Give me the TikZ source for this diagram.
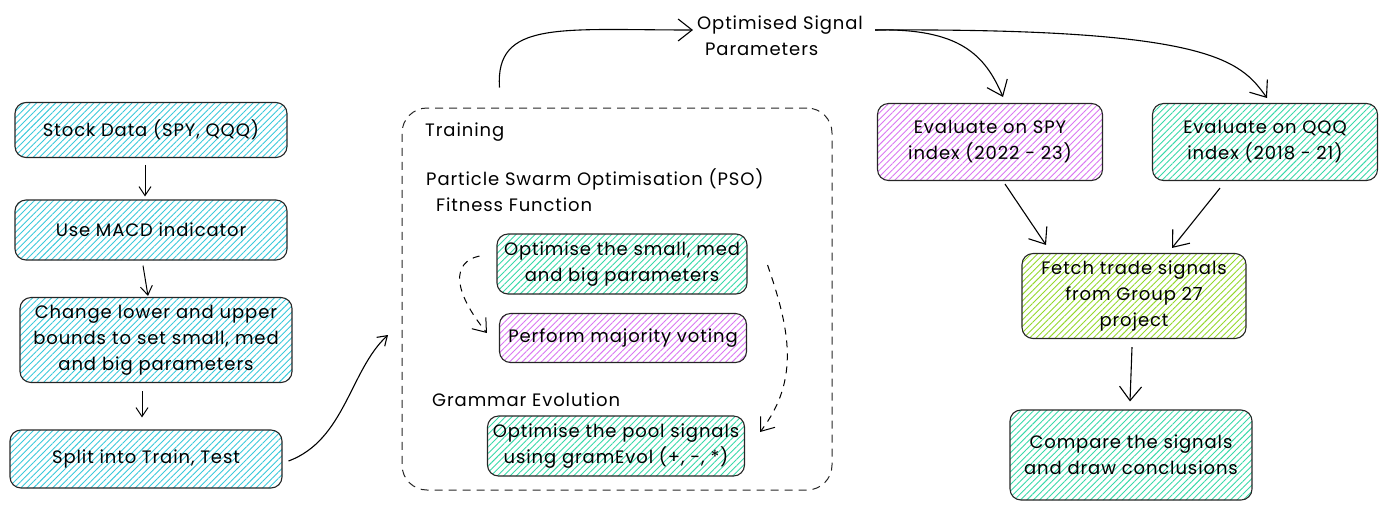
\documentclass[tikz,border=0pt]{standalone}
\usepackage{fontspec}
\setmainfont[LetterSpace=5]{Poppins}
\usetikzlibrary{arrows.meta,patterns.meta,calc}
\definecolor{cyanL}{HTML}{3BC9DB}
\definecolor{tealL}{HTML}{38D9A9}
\definecolor{purpL}{HTML}{DA77F2}
\definecolor{limeL}{HTML}{94D82D}
\tikzset{
  box/.style={draw=black!85, line width=1.1pt, rounded corners=11pt, align=center,
    font=\fontsize{18}{26}\selectfont, inner sep=1pt},
  hach/.style={pattern={Lines[angle=45,distance=4.5pt,line width=0.9pt]}, pattern color=#1},
  cyanbox/.style={box, hach=cyanL},
  tealbox/.style={box, hach=tealL},
  purpbox/.style={box, hach=purpL},
  limebox/.style={box, hach=limeL},
  lbl/.style={font=\fontsize{18}{26}\selectfont, align=left, inner sep=0pt},
  arr/.style={line width=1pt, -{Straight Barb[length=9pt,width=12pt]}},
  bigarr/.style={line width=1.1pt, -{Straight Barb[length=14pt,width=22pt]}},
  dasharr/.style={line width=1pt, dashed, dash pattern=on 7pt off 6pt, -{Straight Barb[length=12pt,width=18pt]}},
}
\begin{document}
\begin{tikzpicture}[x=1pt,y=-1pt]
\useasboundingbox (0,0) rectangle (1388,515);
% left column
\node[cyanbox, minimum width=272pt, minimum height=55pt] (stock) at (151,130) {Stock Data (SPY, QQQ)};
\node[cyanbox, minimum width=272pt, minimum height=60pt] (macd) at (151,230) {Use MACD indicator};
\node[cyanbox, minimum width=272pt, minimum height=85pt, text width=266pt] (bounds) at (156,340) {Change lower and upper\\bounds to set small, med\\and big parameters};
\node[cyanbox, minimum width=272pt, minimum height=58pt] (split) at (146,459) {Split into Train, Test};
\draw[arr] ($(stock.south)+(-6,7)$) -- ($(macd.north)+(-6,-3)$);
\draw[arr] ($(macd.south)+(-8,5)$) -- ($(bounds.north)+(-8,-1)$);
\draw[arr] ($(bounds.south)+(-14,8)$) -- ($(split.north)+(-4,-12)$);
% training group
\node[draw=black!85, line width=1pt, dashed, dash pattern=on 8pt off 6pt, rounded corners=25pt, minimum width=430pt, minimum height=382pt] (train) at (617,299) {};
\node[lbl, anchor=west] (tlab) at (425,132) {Training};
\node[lbl, anchor=north west] (pso) at (426,168) {Particle Swarm Optimisation (PSO)\\\hspace*{10pt}Fitness Function};
\node[tealbox, minimum width=250pt, minimum height=60pt] (optp) at (622,264) {Optimise the small, med\\and big parameters};
\node[purpbox, minimum width=247pt, minimum height=49pt] (vote) at (623,338) {Perform majority voting};
\node[lbl, anchor=west] (ge) at (432,400) {Grammar Evolution};
\node[tealbox, minimum width=257pt, minimum height=60pt] (pool) at (616,446) {Optimise the pool signals\\using gramEvol (+, -, *)};
\draw[dasharr] ($(optp.west)+(-17,-8)$) .. controls (452,262) and (452,290) .. ($(vote.west)+(-12,-5)$);
\draw[dasharr] ($(optp.east)+(20,1)$) .. controls (790,330) and (800,380) .. ($(pool.east)+(15,-14)$);
% split -> training
\coordinate (trin) at (388,335);
\draw[arr, line width=1.1pt] ($(split.east)+(6,2)$) .. controls (345,440) and (350,370) .. (trin);
% optimised signal parameters
\node[lbl, align=left] (osp) at (780,36) {Optimised Signal\\\hspace*{8pt}Parameters};
\draw[bigarr] ($(train.north west)+(98,-20)$) .. controls (495,20) and (560,30) .. ($(osp.west)+(-4,-6)$);
\coordinate (spyin) at (1003,97);
\coordinate (qqqin) at (1267,98);
\draw[bigarr] ($(osp.east)+(12,-6)$) .. controls (960,28) and (985,55) .. (spyin);
\draw[bigarr] ($(osp.east)+(12,-6)$) .. controls (1210,28) and (1240,60) .. (qqqin);
% right column
\node[purpbox, minimum width=225pt, minimum height=77pt] (spy) at (990,142) {Evaluate on SPY\\index (2022 - 23)};
\node[tealbox, minimum width=225pt, minimum height=77pt] (qqq) at (1265,142) {Evaluate on QQQ\\index (2018 - 21)};
\node[limebox, minimum width=224pt, minimum height=85pt] (fetch) at (1134,296) {Fetch trade signals\\from Group 27\\project};
\node[tealbox, minimum width=242pt, minimum height=90pt] (comp) at (1131,455) {Compare the signals\\and draw conclusions};
\draw[bigarr] ($(spy.south)+(15,3)$) -- ($(fetch.north)+(-88,-8)$);
\draw[bigarr] ($(qqq.south)+(-45,7)$) -- ($(fetch.north)+(38,-5)$);
\draw[bigarr] ($(fetch.south)+(-2,8)$) -- ($(comp.north)+(-1,-8)$);
\end{tikzpicture}
\end{document}
